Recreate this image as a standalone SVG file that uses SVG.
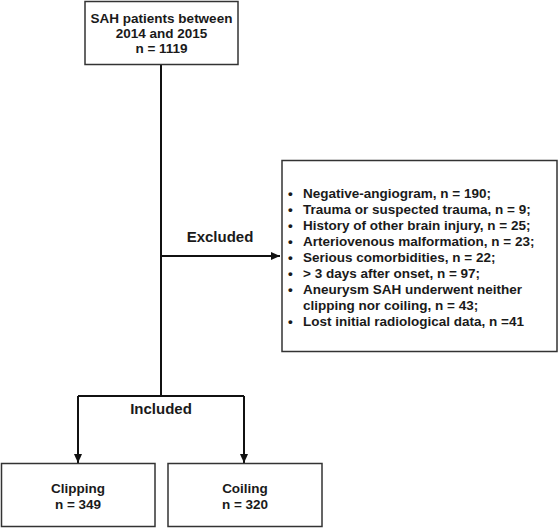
<svg xmlns="http://www.w3.org/2000/svg" width="559" height="530" viewBox="0 0 559 530">
<defs>
<marker id="arr" markerWidth="10" markerHeight="10" refX="9" refY="5" orient="auto" markerUnits="userSpaceOnUse">
<path d="M0,1 L9,5 L0,9 Z" fill="#111"/>
</marker>
<style>
.box{fill:#fff;stroke:#333;stroke-width:1.5}
.t{font-family:"Liberation Sans",Arial,sans-serif;font-weight:bold;font-size:13.5px;fill:#1a1a1a}
.lbl{font-size:15px}
.c{text-anchor:middle}
.ln{fill:none;stroke:#111;stroke-width:2}
</style>
</defs>
<rect width="559" height="530" fill="#fff"/>
<g id="connectors">
<path class="ln" d="M161,65 V396"/>
<path class="ln" d="M161,256 H280" marker-end="url(#arr)"/>
<path class="ln" d="M78,396 H244"/>
<path class="ln" d="M78,396 V463" marker-end="url(#arr)"/>
<path class="ln" d="M244,396 V463" marker-end="url(#arr)"/>
<text class="t c lbl" x="220" y="242">Excluded</text>
<text class="t c lbl" x="161" y="414">Included</text>
</g>
<g id="n_top">
<rect class="box" x="85" y="1.5" width="153" height="63"/>
<text class="t c" x="161.5" y="22.5">SAH patients between</text>
<text class="t c" x="161.5" y="37.5">2014 and 2015</text>
<text class="t c" x="161.5" y="53">n = 1119</text>
</g>
<g id="n_excluded">
<rect class="box" x="282" y="160.5" width="275" height="191"/>
<g class="t">
<text x="288" y="198">•</text><text x="303" y="198">Negative-angiogram, n = 190;</text>
<text x="288" y="214">•</text><text x="303" y="214">Trauma or suspected trauma, n = 9;</text>
<text x="288" y="230">•</text><text x="303" y="230">History of other brain injury, n = 25;</text>
<text x="288" y="246">•</text><text x="303" y="246">Arteriovenous malformation, n = 23;</text>
<text x="288" y="262">•</text><text x="303" y="262">Serious comorbidities, n = 22;</text>
<text x="288" y="278">•</text><text x="303" y="278">&gt; 3 days after onset, n = 97;</text>
<text x="288" y="294">•</text><text x="303" y="294">Aneurysm SAH underwent neither</text>
<text x="303" y="310">clipping nor coiling, n = 43;</text>
<text x="288" y="326">•</text><text x="303" y="326">Lost initial radiological data, n =41</text>
</g>
</g>
<g id="n_clipping">
<rect class="box" x="1.5" y="463.5" width="153.5" height="63"/>
<text class="t c" x="78" y="493">Clipping</text>
<text class="t c" x="78" y="509">n = 349</text>
</g>
<g id="n_coiling">
<rect class="box" x="168" y="463.5" width="154" height="63"/>
<text class="t c" x="245" y="493">Coiling</text>
<text class="t c" x="245" y="509">n = 320</text>
</g>
</svg>
